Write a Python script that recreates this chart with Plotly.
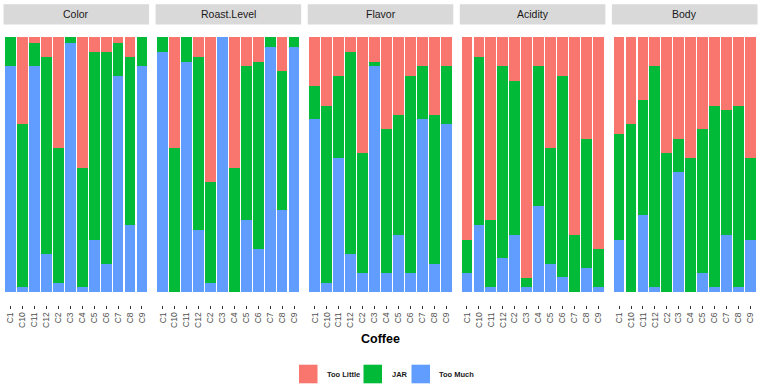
import plotly.graph_objects as go

coffees = ["C1", "C10", "C11", "C12", "C2", "C3", "C4", "C5", "C6", "C7", "C8", "C9"]
attributes = ["Color", "Roast.Level", "Flavor", "Acidity", "Body"]
levels = ["Too Little", "JAR", "Too Much"]

# proportions per coffee (same order as coffees)
color_too_little = [0.0, 0.342, 0.021, 0.076, 0.435, 0.0, 0.512, 0.059, 0.059, 0.021, 0.076, 0.0]
color_jar = [0.114, 0.637, 0.093, 0.773, 0.529, 0.021, 0.467, 0.735, 0.829, 0.131, 0.659, 0.114]
color_too_much = [0.886, 0.021, 0.886, 0.151, 0.036, 0.979, 0.021, 0.206, 0.112, 0.848, 0.265, 0.886]

roast_too_little = [0.0, 0.435, 0.0, 0.076, 0.567, 0.0, 0.512, 0.114, 0.097, 0.0, 0.134, 0.0]
roast_jar = [0.059, 0.565, 0.097, 0.679, 0.397, 0.0, 0.488, 0.604, 0.735, 0.038, 0.544, 0.038]
roast_too_much = [0.941, 0.0, 0.903, 0.245, 0.036, 1.0, 0.0, 0.282, 0.168, 0.962, 0.322, 0.962]

flavor_too_little = [0.192, 0.268, 0.151, 0.059, 0.453, 0.097, 0.359, 0.304, 0.151, 0.114, 0.304, 0.114]
flavor_jar = [0.128, 0.696, 0.321, 0.790, 0.471, 0.017, 0.565, 0.470, 0.773, 0.206, 0.584, 0.228]
flavor_too_much = [0.680, 0.036, 0.528, 0.151, 0.076, 0.886, 0.076, 0.226, 0.076, 0.680, 0.112, 0.658]

acidity_too_little = [0.794, 0.076, 0.718, 0.114, 0.170, 0.943, 0.114, 0.435, 0.151, 0.774, 0.398, 0.832]
acidity_jar = [0.131, 0.659, 0.261, 0.752, 0.604, 0.036, 0.546, 0.453, 0.791, 0.226, 0.507, 0.147]
acidity_too_much = [0.075, 0.265, 0.021, 0.134, 0.226, 0.021, 0.340, 0.112, 0.058, 0.0, 0.095, 0.021]

body_too_little = [0.379, 0.342, 0.245, 0.114, 0.453, 0.398, 0.473, 0.359, 0.268, 0.285, 0.268, 0.473]
body_jar = [0.415, 0.658, 0.453, 0.865, 0.547, 0.131, 0.527, 0.565, 0.711, 0.489, 0.711, 0.321]
body_too_much = [0.206, 0.0, 0.302, 0.021, 0.0, 0.471, 0.0, 0.076, 0.021, 0.226, 0.021, 0.206]

facet_data = {
    "Color": (color_too_little, color_jar, color_too_much),
    "Roast.Level": (roast_too_little, roast_jar, roast_too_much),
    "Flavor": (flavor_too_little, flavor_jar, flavor_too_much),
    "Acidity": (acidity_too_little, acidity_jar, acidity_too_much),
    "Body": (body_too_little, body_jar, body_too_much),
}

level_colors = {"Too Little": "#F8766D", "JAR": "#00BA38", "Too Much": "#619CFF"}

W, H = 764, 387
FONT = "Liberation Sans, Arial, sans-serif"

left, right, gap = 3.5, 757.5, 6.5
pw = (right - left - 4 * gap) / 5
panel_top, panel_bot = 24.5, 305.0
strip_top = 4.3

def px_x(v):
    return v / W

def px_y(v):
    return 1 - v / H

fig = go.Figure()
shapes = []
annotations = []
layout_axes = {}

for i, attr in enumerate(attributes):
    tl, jar, tm = facet_data[attr]
    xa = "x" if i == 0 else f"x{i+1}"
    x0 = left + i * (pw + gap)
    x1 = x0 + pw
    # stack: Too Much at bottom, then JAR, then Too Little on top
    for name, vals in (("Too Much", tm), ("JAR", jar), ("Too Little", tl)):
        fig.add_trace(go.Bar(
            x=coffees, y=vals, name=name, xaxis=xa, yaxis="y",
            marker=dict(color=level_colors[name], line=dict(width=0)),
            showlegend=False, hoverinfo="x+y+name",
        ))
    key = "xaxis" if i == 0 else f"xaxis{i+1}"
    layout_axes[key] = dict(
        domain=[px_x(x0), px_x(x1)], anchor="y",
        type="category", categoryorder="array", categoryarray=coffees,
        range=[-0.6, len(coffees) - 0.4],
        tickangle=-90, ticks="outside", ticklen=3, tickwidth=1, tickcolor="#333333",
        tickfont=dict(family=FONT, size=8.5, color="#4D4D4D"),
        showgrid=False, zeroline=False, showline=False, fixedrange=True,
    )
    shapes.append(dict(type="rect", xref="paper", yref="paper",
                       x0=px_x(x0), x1=px_x(x1), y0=px_y(panel_top), y1=px_y(strip_top),
                       fillcolor="#D9D9D9", line=dict(width=0), layer="below"))
    annotations.append(dict(text=attr, xref="paper", yref="paper",
                            x=px_x((x0 + x1) / 2), y=px_y((panel_top + strip_top) / 2),
                            xanchor="center", yanchor="middle", showarrow=False,
                            font=dict(family=FONT, size=10.5, color="#1A1A1A")))

# axis title
annotations.append(dict(text="<b>Coffee</b>", xref="paper", yref="paper",
                        x=px_x((left + right) / 2), y=px_y(338.5), xanchor="center", yanchor="middle",
                        showarrow=False, font=dict(family=FONT, size=12.5, color="#000000")))

# manual legend
legend_items = [("Too Little", 299.0, 325.0), ("JAR", 363.5, 389.5), ("Too Much", 411.5, 437.0)]
ly0, ly1 = 364.7, 383.3
for name, sx, tx in legend_items:
    shapes.append(dict(type="rect", xref="paper", yref="paper",
                       x0=px_x(sx), x1=px_x(sx + 18.5), y0=px_y(ly1), y1=px_y(ly0),
                       fillcolor=level_colors[name], line=dict(width=0)))
    annotations.append(dict(text=f"<b>{name}</b>", xref="paper", yref="paper",
                            x=px_x(tx), y=px_y((ly0 + ly1) / 2), xanchor="left", yanchor="middle",
                            showarrow=False, font=dict(family=FONT, size=7.5, color="#1A1A1A")))

fig.update_layout(
    width=W, height=H, margin=dict(l=0, r=0, t=0, b=0),
    paper_bgcolor="white", plot_bgcolor="white",
    barmode="stack", bargap=0.1,
    yaxis=dict(domain=[px_y(panel_bot), px_y(panel_top)], range=[-0.05, 1.05],
               visible=False, showgrid=False, zeroline=False, fixedrange=True),
    shapes=shapes, annotations=annotations, showlegend=False,
    **layout_axes,
)

fig.write_html("out.html")
